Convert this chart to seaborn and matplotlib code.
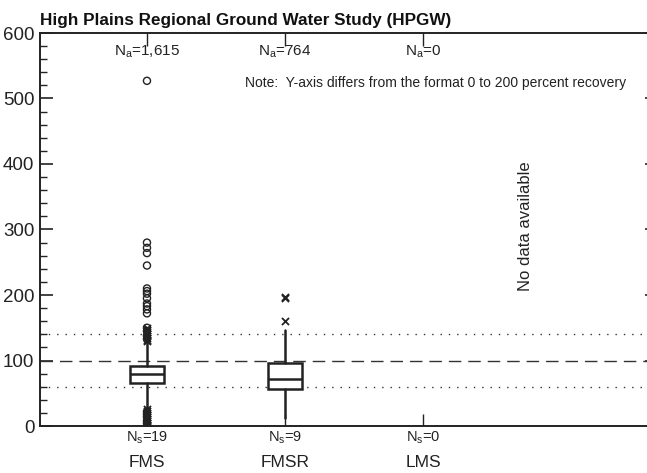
import matplotlib
matplotlib.use("Agg")
import matplotlib.pyplot as plt
from matplotlib.ticker import MultipleLocator
import seaborn as sns
import pandas as pd

# Sampling groups and counts
categories = ["FMS", "FMSR", "LMS"]
n_analyses = ["1,615", "764", "0"]
n_sites = ["19", "9", "0"]

# Box statistics (percent recovery) for groups with data
q1 = [66, 57]
median = [79, 72]
q3 = [92, 96]
whisker_low = [26, 12]
whisker_high = [128, 146]

# Outside values (x) and far-outside values (o)
fms_outside = [150, 147, 144, 141, 138, 135, 132, 130, 26, 23, 20, 17, 14, 11, 8, 5, 2, 0]
fms_far = [527, 280, 272, 264, 245, 210, 206, 202, 195, 187, 183, 178, 172, 150, 145, 138, 133, 22, 18, 14, 8, 4]
fmsr_outside = [197, 195, 160]
fmsr_far = []

sns.set_style("ticks")
plt.rcParams["font.family"] = ["Liberation Sans", "DejaVu Sans"]
plt.rcParams["mathtext.default"] = "regular"

fig = plt.figure(figsize=(6.47, 4.73), dpi=100)
ax = fig.add_axes([40 / 647, 47 / 473, 617 / 647, 393 / 473])

# reference lines
ax.axhline(100, color="#333333", lw=1.0, ls=(0, (9, 5)), zorder=1)
for v in (60, 140):
    ax.axhline(v, color="#333333", lw=1.0, ls=(0, (1, 5)), zorder=1)

stats = []
for i in range(len(q1)):
    stats.append(dict(med=median[i], q1=q1[i], q3=q3[i],
                      whislo=whisker_low[i], whishi=whisker_high[i], fliers=[]))
ax.bxp(stats, positions=list(range(len(q1))), widths=0.25, showcaps=False,
       patch_artist=True,
       boxprops=dict(facecolor="white", edgecolor="#222222", linewidth=1.8),
       medianprops=dict(color="#222222", linewidth=1.8),
       whiskerprops=dict(color="#222222", linewidth=1.8),
       manage_ticks=False, zorder=3)

out_df = pd.DataFrame({
    "x": [0] * len(fms_outside) + [1] * len(fmsr_outside),
    "y": fms_outside + fmsr_outside,
})
far_df = pd.DataFrame({
    "x": [0] * len(fms_far) + [1] * len(fmsr_far),
    "y": fms_far + fmsr_far,
})
sns.scatterplot(data=far_df, x="x", y="y", ax=ax, marker="o", s=26,
                facecolor="none", edgecolor="#222222", linewidth=1.0, zorder=4)
sns.scatterplot(data=out_df, x="x", y="y", ax=ax, marker="x", s=26,
                color="#222222", linewidth=1.3, zorder=5)

ax.set_xlim(-0.775, 3.695)
ax.set_ylim(0, 600)
ax.set_xlabel("")
ax.set_ylabel("")

ax.yaxis.set_major_locator(MultipleLocator(100))
ax.yaxis.set_minor_locator(MultipleLocator(20))
ax.tick_params(axis="y", which="major", direction="in", length=9, width=1.2,
               labelsize=13.5, colors="#222222", right=True, pad=4)
ax.tick_params(axis="y", which="minor", direction="in", length=5, width=1.0,
               right=False, colors="#222222")
ax.set_xticks(range(len(categories)))
ax.set_xticklabels(categories)
ax.tick_params(axis="x", direction="in", length=9, width=1.0, top=True,
               labelsize=12.5, pad=21, colors="#222222")
for sp in ax.spines.values():
    sp.set_linewidth(1.4)
    sp.set_color("#222222")

for i, cat in enumerate(categories):
    ax.text(i, 571, f"N$_a$={n_analyses[i]}", ha="center", va="center",
            fontsize=11, color="#222222")
    ax.text(i, -18, f"N$_s$={n_sites[i]}", ha="center", va="center",
            fontsize=10.5, color="#222222", clip_on=False)

ax.text(0.71, 523, "Note:  Y-axis differs from the format 0 to 200 percent recovery",
        ha="left", va="center", fontsize=10, color="#222222")
ax.text(2.74, 305, "No data available", rotation=90, ha="center", va="center",
        fontsize=12, color="#222222")

fig.text(40 / 647, 1 - 20 / 473, "High Plains Regional Ground Water Study (HPGW)",
         ha="left", va="center", fontsize=12.3, fontweight="bold",
         color="#111111")

fig.savefig("out.png", dpi=100)
